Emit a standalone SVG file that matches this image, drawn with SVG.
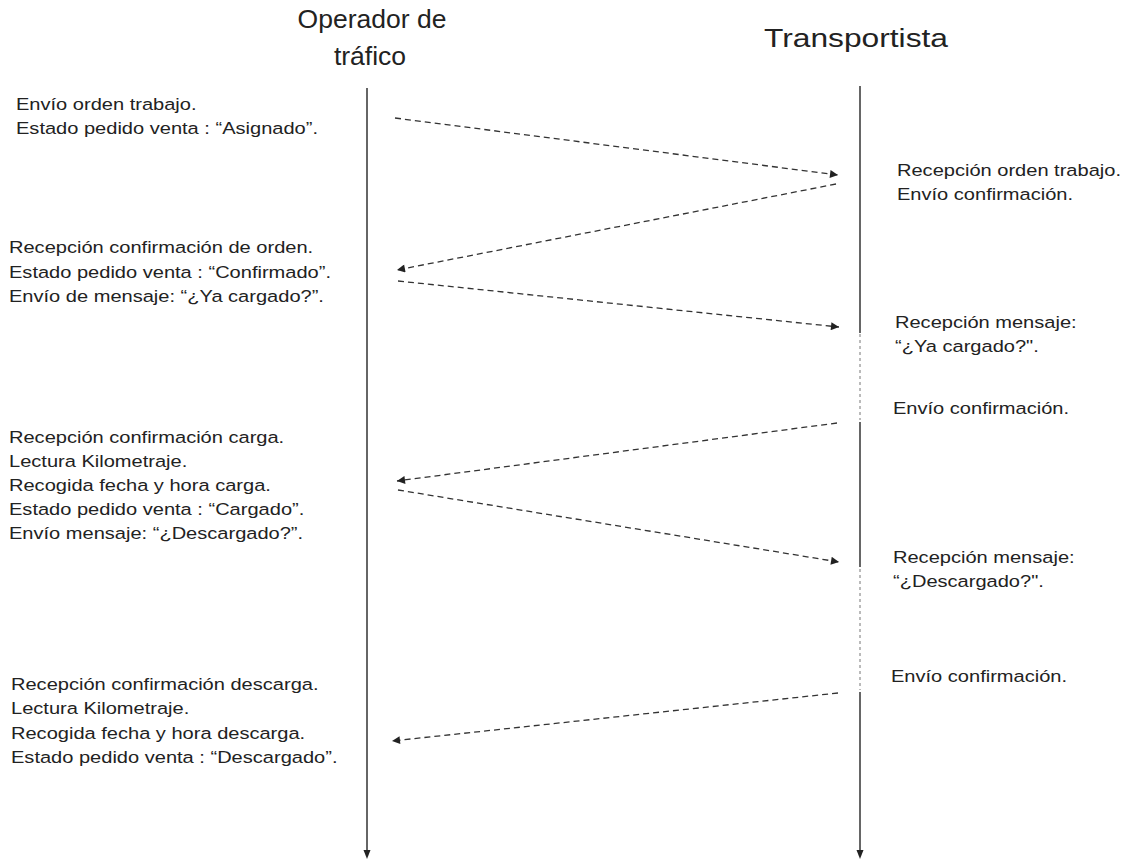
<svg xmlns="http://www.w3.org/2000/svg" width="1124" height="863" viewBox="0 0 1124 863">
<defs>
<style>
.t{font-family:"Liberation Sans",Arial,sans-serif;font-size:17px;fill:#222}
.h{font-family:"Liberation Sans",Arial,sans-serif;font-size:26.5px;fill:#222;text-anchor:middle}
.life{stroke:#333;stroke-width:1.5;fill:none}
.dot{stroke:#777;stroke-width:1;stroke-dasharray:3,3;fill:none}
.msg{stroke:#333;stroke-width:1.3;stroke-dasharray:6,4;fill:none}
</style>
<marker id="ah" viewBox="0 0 10 10" refX="10" refY="5" markerWidth="10" markerHeight="8" markerUnits="userSpaceOnUse" orient="auto">
<path d="M0,0 L10,5 L0,10 z" fill="#222"/>
</marker>
</defs>
<rect width="1124" height="863" fill="#fff"/>
<g id="operador">
<text class="h" x="372" y="28">Operador de</text>
<text class="h" x="370" y="65">tráfico</text>
<line class="life" x1="367" y1="88" x2="367" y2="850"/>
<path d="M363.5,850 L370.5,850 L367,859 z" fill="#222"/>
</g>
<g id="transportista">
<text class="h" x="856" y="47" textLength="184" lengthAdjust="spacingAndGlyphs">Transportista</text>
<line class="life" x1="860" y1="86" x2="860" y2="333"/>
<line class="dot" x1="860" y1="334" x2="860" y2="420"/>
<line class="life" x1="860" y1="422" x2="860" y2="567"/>
<line class="dot" x1="860" y1="569" x2="860" y2="690"/>
<line class="life" x1="860" y1="692" x2="860" y2="850"/>
<path d="M856.5,850 L863.5,850 L860,859 z" fill="#222"/>
</g>
<g id="connectors">
<line class="msg" x1="395" y1="118" x2="838" y2="175" marker-end="url(#ah)"/>
<line class="msg" x1="836" y1="184" x2="397" y2="270" marker-end="url(#ah)"/>
<line class="msg" x1="398" y1="281" x2="839" y2="327" marker-end="url(#ah)"/>
<line class="msg" x1="837" y1="423" x2="397" y2="481" marker-end="url(#ah)"/>
<line class="msg" x1="398" y1="490" x2="839" y2="562" marker-end="url(#ah)"/>
<line class="msg" x1="838" y1="693" x2="392" y2="741" marker-end="url(#ah)"/>
</g>
<g id="n1" transform="translate(16,0) scale(1.18,1)">
<text class="t" x="0" y="110">Envío orden trabajo.</text>
<text class="t" x="0" y="134">Estado pedido venta : “Asignado”.</text>
</g>
<g id="n2" transform="translate(897,0) scale(1.18,1)">
<text class="t" x="0" y="176">Recepción orden trabajo.</text>
<text class="t" x="0" y="200">Envío confirmación.</text>
</g>
<g id="n3" transform="translate(9,0) scale(1.18,1)">
<text class="t" x="0" y="253">Recepción confirmación de orden.</text>
<text class="t" x="0" y="278">Estado pedido venta : “Confirmado”.</text>
<text class="t" x="0" y="302">Envío de mensaje: “¿Ya cargado?”.</text>
</g>
<g id="n4" transform="translate(895,0) scale(1.18,1)">
<text class="t" x="0" y="328">Recepción mensaje:</text>
<text class="t" x="0" y="352">“¿Ya cargado?".</text>
</g>
<g id="n5" transform="translate(893,0) scale(1.18,1)">
<text class="t" x="0" y="414">Envío confirmación.</text>
</g>
<g id="n6" transform="translate(9,0) scale(1.18,1)">
<text class="t" x="0" y="443">Recepción confirmación carga.</text>
<text class="t" x="0" y="467">Lectura Kilometraje.</text>
<text class="t" x="0" y="491">Recogida fecha y hora carga.</text>
<text class="t" x="0" y="515">Estado pedido venta : “Cargado”.</text>
<text class="t" x="0" y="539">Envío mensaje: “¿Descargado?”.</text>
</g>
<g id="n7" transform="translate(893,0) scale(1.18,1)">
<text class="t" x="0" y="563">Recepción mensaje:</text>
<text class="t" x="0" y="587">“¿Descargado?".</text>
</g>
<g id="n8" transform="translate(891,0) scale(1.18,1)">
<text class="t" x="0" y="682">Envío confirmación.</text>
</g>
<g id="n9" transform="translate(11,0) scale(1.18,1)">
<text class="t" x="0" y="690">Recepción confirmación descarga.</text>
<text class="t" x="0" y="714">Lectura Kilometraje.</text>
<text class="t" x="0" y="739">Recogida fecha y hora descarga.</text>
<text class="t" x="0" y="763">Estado pedido venta : “Descargado”.</text>
</g>
</svg>
